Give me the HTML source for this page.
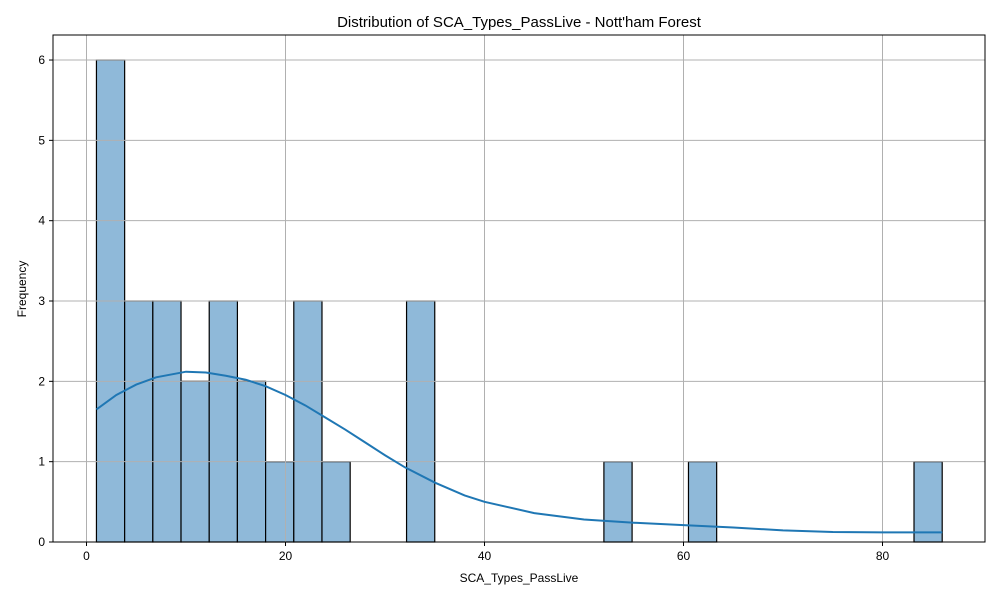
<!DOCTYPE html>
<html><head><meta charset="utf-8"><style>body{margin:0;background:#fff}svg{display:block;font-family:"Liberation Sans","DejaVu Sans",sans-serif}</style></head>
<body>
<svg id="c" width="1000" height="600"></svg>
<script>
const binStart = 1, binWidth = (86 - 1) / 30;
const counts = [6,3,3,2,3,2,1,3,1,0,0,3,0,0,0,0,0,0,1,0,0,1,0,0,0,0,0,0,0,1];
const kdeX = [1,3,5,7,10,12,14,16,18,20,22,24,26,28,30,32,35,38,40,45,50,55,60,65,70,75,80,86];
const kdeY = [1.65,1.83,1.96,2.05,2.12,2.11,2.07,2.02,1.94,1.83,1.70,1.55,1.40,1.24,1.08,0.93,0.74,0.58,0.50,0.36,0.28,0.24,0.21,0.18,0.145,0.125,0.12,0.12];
const xTicks = [0,20,40,60,80];
const yTicks = [0,1,2,3,4,5,6];
const L=53,R=985,T=35,B=542;
const xs=v=>86.5+(v)*9.95;
const ys=v=>B-v*80.33;
const svg=document.getElementById('c');const NS='http://www.w3.org/2000/svg';
function el(t,a,txt){const e=document.createElementNS(NS,t);for(const k in a)e.setAttribute(k,a[k]);if(txt!==undefined)e.textContent=txt;svg.appendChild(e);return e;}
counts.forEach((c,i)=>{if(!c)return;const x0=xs(binStart+i*binWidth),x1=xs(binStart+(i+1)*binWidth);
const r=el('rect',{x:x0,y:ys(c),width:x1-x0,height:B-ys(c),fill:'#8fb9d9',stroke:'#000','stroke-width':1.2});

});
xTicks.forEach(t=>{const g=el('line',{x1:xs(t),x2:xs(t),y1:T,y2:B,stroke:'#b0b0b0','stroke-width':1});


el('line',{x1:xs(t),x2:xs(t),y1:B,y2:B+4,stroke:'#000'});
const l=el('text',{x:xs(t),y:B+18,'text-anchor':'middle','font-size':12},t);

});
yTicks.forEach(t=>{const g=el('line',{x1:L,x2:R,y1:ys(t),y2:ys(t),stroke:'#b0b0b0','stroke-width':1});


el('line',{x1:L-4,x2:L,y1:ys(t),y2:ys(t),stroke:'#000'});
const l=el('text',{x:L-8,y:ys(t)+4,'text-anchor':'end','font-size':12},t);

});
const p=el('path',{d:kdeX.map((x,i)=>(i?'L':'M')+xs(x)+','+ys(kdeY[i])).join(''),fill:'none',stroke:'#1f77b4','stroke-width':2});


const f=el('rect',{x:L,y:T,width:R-L,height:B-T,fill:'none',stroke:'#000','stroke-width':1});


const ti=el('text',{x:519,y:27,'text-anchor':'middle','font-size':15},"Distribution of SCA_Types_PassLive - Nott'ham Forest");


const xt=el('text',{x:519,y:582,'text-anchor':'middle','font-size':12},'SCA_Types_PassLive');


const yt=el('text',{x:26,y:289,'text-anchor':'middle','font-size':12,transform:'rotate(-90 26 289)'},'Frequency');


</script>
</body></html>
